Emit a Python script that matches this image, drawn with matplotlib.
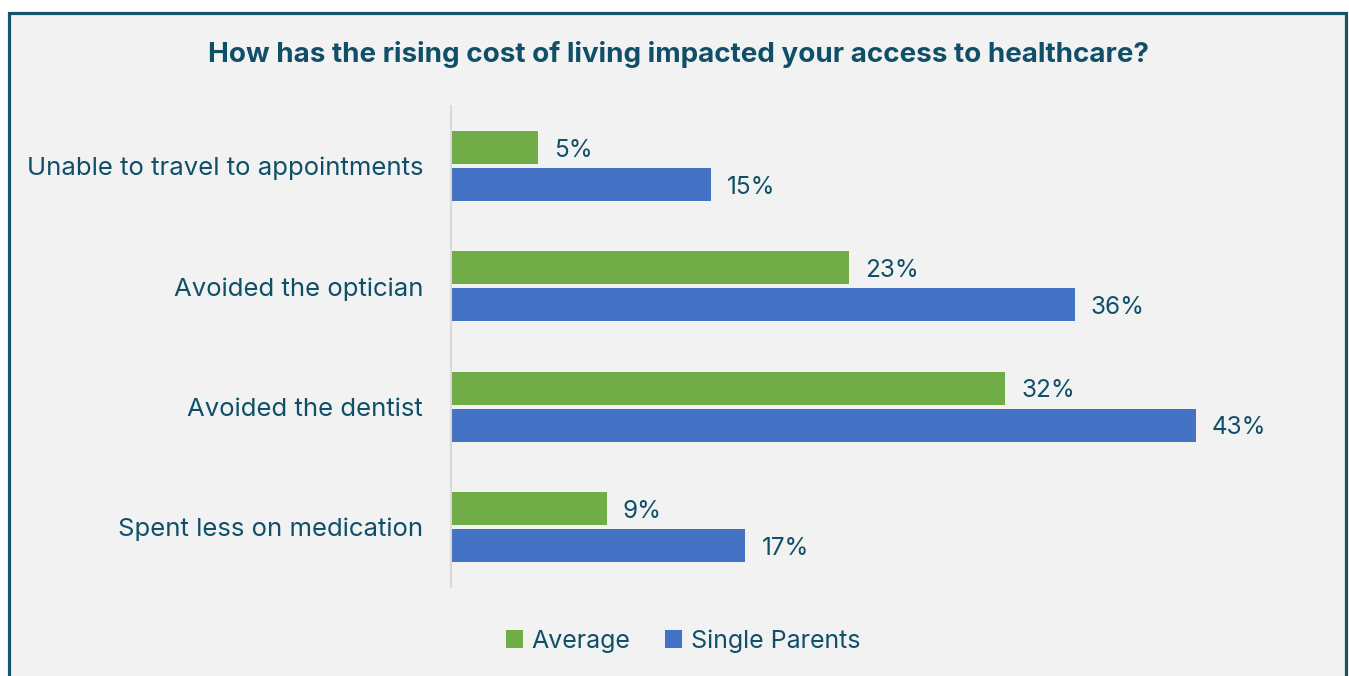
import matplotlib.pyplot as plt
from matplotlib.patches import Patch, Rectangle

categories = ["Unable to travel to appointments", "Avoided the optician",
              "Avoided the dentist", "Spent less on medication"]
average = [5, 23, 32, 9]
single_parents = [15, 36, 43, 17]

W, H = 1349, 676
teal = "#0f5068"
green = "#70ad47"
blue = "#4472c4"

plt.rcParams['font.family'] = ['Inter', 'DejaVu Sans']

fig = plt.figure(figsize=(W / 100, H / 100), dpi=100)
fig.patch.set_facecolor("white")

# panel background with dark frame
frame = Rectangle((8.5 / W, -0.05), (1345.5 - 8.5) / W, 1 - 12.5 / H + 0.05,
                  transform=fig.transFigure, facecolor="#f2f2f2",
                  edgecolor="#17546c", linewidth=2.3, zorder=-10)
fig.patches.append(frame)

ax = fig.add_axes([451 / W, 1 - 587 / H, (1317 - 451) / W, (587 - 106) / H])
ax.set_facecolor("none")

pos = list(range(len(categories)))
off = 0.154
h = 0.275
ax.barh([p - off for p in pos], average, height=h, color=green, label="Average")
ax.barh([p + off for p in pos], single_parents, height=h, color=blue, label="Single Parents")

for p, v in zip(pos, average):
    ax.annotate(f"{v}%", (v, p - off), xytext=(11.5, -2), textcoords="offset points",
                va="center", ha="left", fontsize=17.5, color=teal)
for p, v in zip(pos, single_parents):
    ax.annotate(f"{v}%", (v, p + off), xytext=(11.5, -2), textcoords="offset points",
                va="center", ha="left", fontsize=17.5, color=teal)

ax.set_xlim(0, 50)
ax.set_ylim(3.5, -0.5)
ax.set_yticks(pos)
ax.set_yticklabels(categories, fontsize=18.5, color=teal)
ax.tick_params(axis="y", length=0, pad=20)
ax.set_xticks([])
for s in ["top", "right", "bottom"]:
    ax.spines[s].set_visible(False)
ax.spines["left"].set_color("#d9d9d9")
ax.spines["left"].set_linewidth(1.5)

fig.text(678 / W, 1 - 54 / H, "How has the rising cost of living impacted your access to healthcare?",
         ha="center", va="center", fontsize=20, fontweight="bold", color=teal)

handles = [Patch(facecolor=green, label="Average"), Patch(facecolor=blue, label="Single Parents")]
fig.legend(handles=handles, loc="center", bbox_to_anchor=(683 / W, 1 - 641 / H), ncol=2,
           frameon=False, fontsize=18, labelcolor=teal, handlelength=0.68, handleheight=0.68,
           handletextpad=0.35, columnspacing=1.4)

fig.savefig("out.png", dpi=100, facecolor=fig.get_facecolor())
